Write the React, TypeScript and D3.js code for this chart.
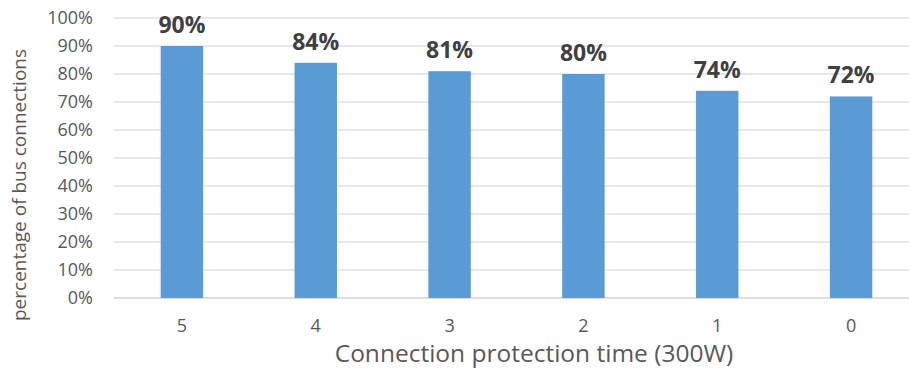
import React from "react";
import * as d3 from "d3";

const categories = ["5", "4", "3", "2", "1", "0"];
const values = [90, 84, 81, 80, 74, 72];
const yTicks = [0, 10, 20, 30, 40, 50, 60, 70, 80, 90, 100];

const W = 909;
const H = 369;
const FONT = "'Open Sans', sans-serif";

export default function App() {
  const x = d3.scaleBand<string>().domain(categories).range([115, 918]).paddingInner(0.683).paddingOuter(0.3415);
  const y = d3.scaleLinear().domain([0, 100]).range([298, 18]);
  const gridX1 = 114;
  return (
    <svg width={W} height={H} style={{ position: "absolute", left: 0, top: 0, background: "#fff" }}>
      {yTicks.map((t) => (
        <g key={t}>
          <line x1={gridX1} x2={W} y1={y(t)} y2={y(t)} stroke={t === 0 ? "#bfbfbf" : "#d0d0d0"} strokeWidth={1} />
          <text x={93} y={y(t)} dy="0.35em" textAnchor="end" fontFamily={FONT} fontSize={18} fill="#595959">
            {t}%
          </text>
        </g>
      ))}
      {categories.map((c, i) => (
        <g key={c}>
          <rect x={x(c)} y={y(values[i])} width={x.bandwidth()} height={y(0) - y(values[i])} fill="#5b9bd5" />
          <text
            x={(x(c) as number) + x.bandwidth() / 2}
            y={y(values[i]) - 13}
            textAnchor="middle"
            fontFamily={FONT}
            fontWeight="bold"
            fontSize={23}
            fill="#404040"
          >
            {values[i]}%
          </text>
          <text
            x={(x(c) as number) + x.bandwidth() / 2}
            y={332}
            textAnchor="middle"
            fontFamily={FONT}
            fontSize={18}
            fill="#595959"
          >
            {c}
          </text>
        </g>
      ))}
      <text x={534} y={362} textAnchor="middle" fontFamily={FONT} fontSize={24.5} fill="#595959">
        Connection protection time (300W)
      </text>
      <text
        transform={`translate(26,${185}) rotate(-90)`}
        textAnchor="middle"
        fontFamily={FONT}
        fontSize={19}
        fill="#595959"
      >
        percentage of bus connections
      </text>
    </svg>
  );
}
